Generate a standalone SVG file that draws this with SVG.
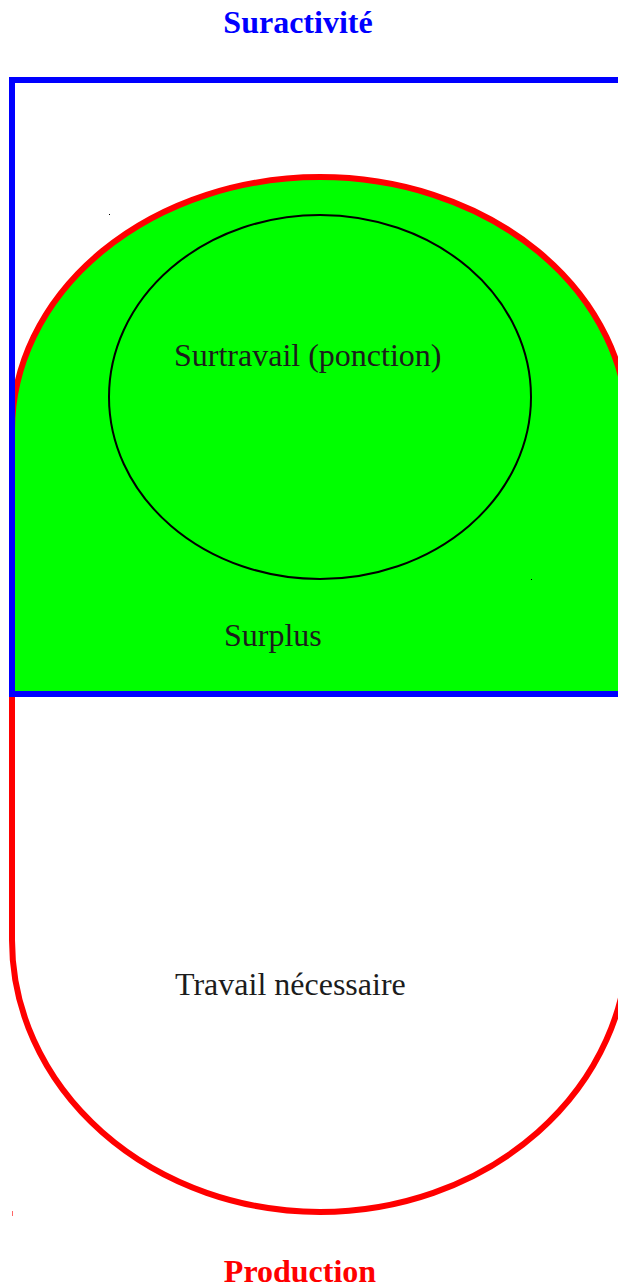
<svg xmlns="http://www.w3.org/2000/svg" width="618" height="1287" viewBox="0 0 618 1287">
<style>
.red{fill:none;stroke:#ff0000;stroke-width:6}
.lbl{font-family:"Liberation Serif","Times New Roman",serif;font-size:32px;fill:#1c1c1c}
.title{font-family:"Liberation Serif","Times New Roman",serif;font-size:32px;font-weight:bold;text-anchor:middle}
</style>
<rect width="618" height="1287" fill="#ffffff"/>
<g id="production">
<path d="M12,694 L12,430 A308,253 0 0 1 628,430 L628,694 Z" fill="#00ff00" stroke="#ff0000" stroke-width="6"/>
<path class="red" d="M12,694 L12,940 A308,272 0 0 0 628,940 L628,694"/>
<rect x="12" y="1211" width="1" height="5" fill="#ff0000" opacity="0.6"/>
<text class="title" x="300" y="1282" fill="#ff0000">Production</text>
</g>
<g id="suractivite">
<path d="M12,694 L12,80 L640,80 L640,694 Z" fill="none" stroke="#0000ff" stroke-width="6"/>
<text class="title" x="298" y="33" fill="#0000ff">Suractivité</text>
</g>
<g id="surtravail">
<ellipse cx="320" cy="397" rx="211" ry="182" fill="none" stroke="#000000" stroke-width="2"/>
<rect x="109" y="214" width="1" height="1" fill="#000000"/>
<rect x="531" y="579" width="1" height="1" fill="#000000"/>
<text class="lbl" x="174" y="366">Surtravail (ponction)</text>
</g>
<g id="surplus">
<text class="lbl" x="224" y="646">Surplus</text>
</g>
<g id="travail">
<text class="lbl" x="175" y="995">Travail nécessaire</text>
</g>
<g id="connectors"/>
</svg>
